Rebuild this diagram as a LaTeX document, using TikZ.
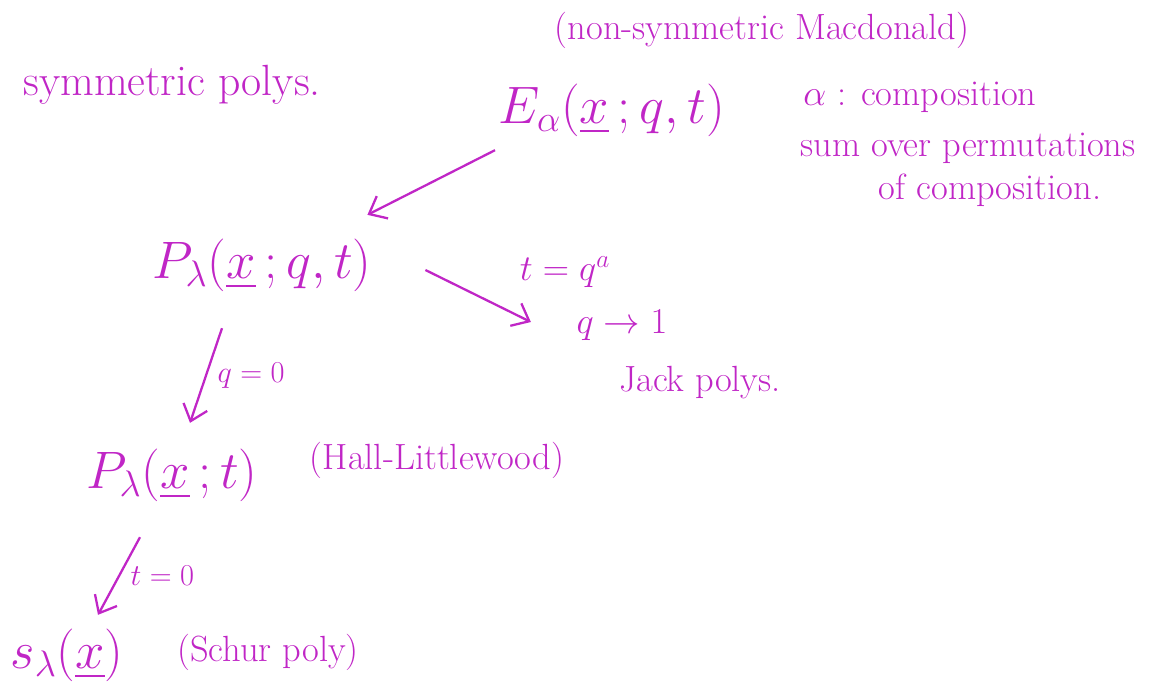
\RequirePackage{fix-cm}
\documentclass[tikz,border=0pt]{standalone}
\definecolor{inkPurple}{RGB}{192,38,198}
\usepackage{tikz}
\usepackage{amssymb}
\usepackage{amsmath}
\usetikzlibrary{arrows.meta,positioning}

\begin{document}
\begin{tikzpicture}[x=0.02cm, y=-0.02cm,
    poly/.style={text=inkPurple, font=\fontsize{30}{36}\selectfont, inner sep=2pt},
    cond/.style={text=inkPurple, font=\huge, inner sep=2pt},
    note/.style={text=inkPurple, font=\huge, inner sep=2pt},
    limit/.style={draw=inkPurple, line width=1.3pt,
                  -{Straight Barb[length=3mm, width=5mm]}}
  ]
  \useasboundingbox (0,0) rectangle (1153,681);

  % headings
  \node[note, font=\Huge] (sym) at (172,85) {symmetric polys.};
  \node[note] (nsm) at (762,30) {(non-symmetric Macdonald)};

  % Macdonald
  \node[poly] (E) at (612,110) {$E_\alpha(\underline{x}\,;q,t)$};
  \node[note] (alpha) at (920,97) {$\alpha$ : composition};
  \node[note] (sumover) at (968,148) {sum over permutations};
  \node[note] (ofcomp) at (990,190) {of composition.};
  \node[poly] (P) at (262,265) {$P_\lambda(\underline{x}\,;q,t)$};

  % Jack
  \node[cond] (tqa) at (565,272) {$t=q^a$};
  \node[cond] (qto1) at (622,325) {$q\to 1$};
  \node[note] (jack) at (700,383) {Jack polys.};

  % Hall-Littlewood and Schur
  \node[poly] (H) at (172,475) {$P_\lambda(\underline{x}\,;t)$};
  \node[note] (hl) at (437,460) {(Hall-Littlewood)};
  \node[poly] (s) at (67,655) {$s_\lambda(\underline{x})$};
  \node[note] (schur) at (268,652) {(Schur poly)};

  % limits
  \draw[limit] ([yshift=-0.2cm]E.south west) -- ([xshift=-0.16cm,yshift=0.4cm]P.north east);
  \draw[limit] ([xshift=1.0cm,yshift=-0.1cm]P.east) -- ([xshift=-0.84cm,yshift=0.06cm]qto1.west);
  \draw[limit] ([xshift=-0.8cm,yshift=-0.66cm]P.south) -- ([xshift=0.36cm,yshift=0.44cm]H.north)
    node[note, font=\LARGE, midway, right=4pt] (q0) {$q=0$};
  \draw[limit] ([xshift=-0.64cm,yshift=-0.64cm]H.south) -- ([xshift=0.62cm,yshift=0.2cm]s.north)
    node[note, font=\LARGE, midway, right=4pt] (t0) {$t=0$};
\end{tikzpicture}
\end{document}
